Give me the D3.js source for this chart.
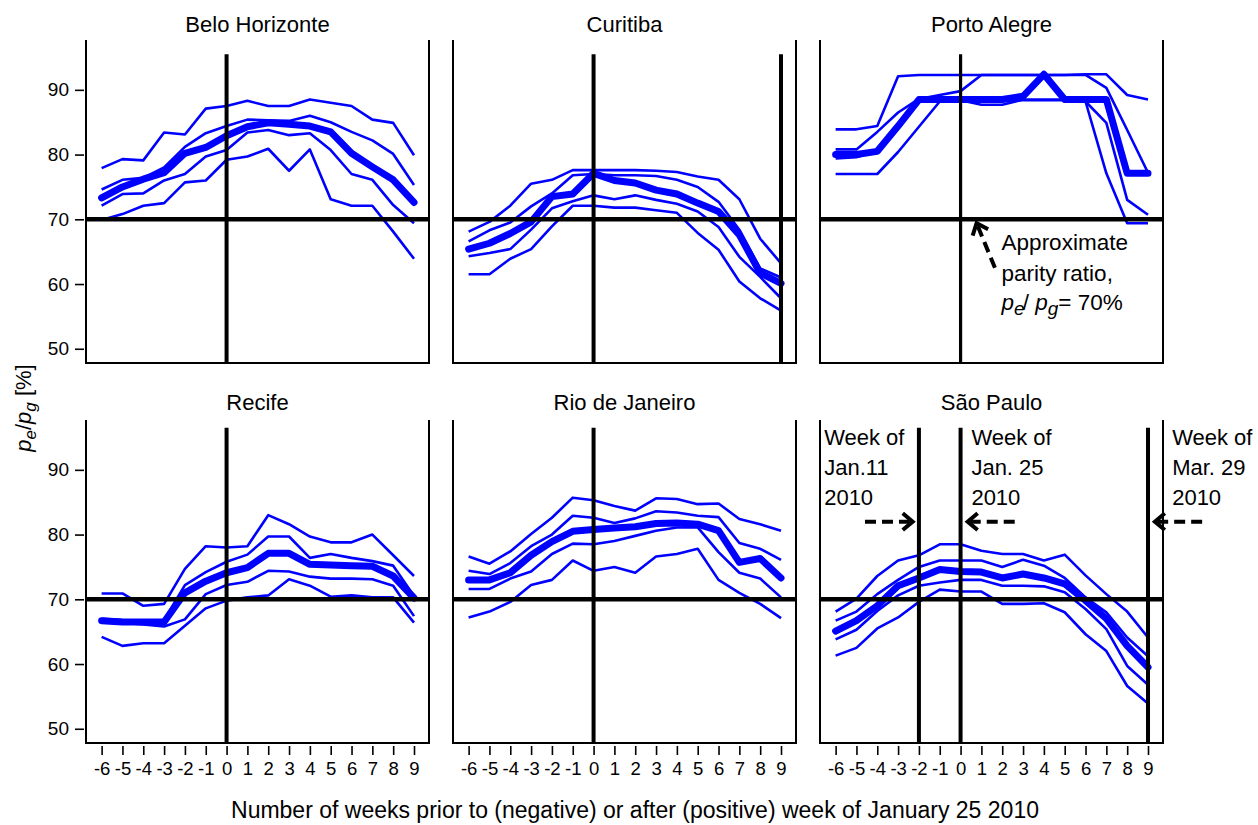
<!DOCTYPE html>
<html>
<head>
<meta charset="utf-8">
<script src="https://d3js.org/d3.v7.min.js"></script>
<style>
  body { margin: 0; background: #fff; }
  text { font-family: "Liberation Sans", Arial, sans-serif; fill: #000; }
</style>
</head>
<body>
<svg id="chart" width="1258" height="825"></svg>
<script>
// weeks relative to the week of January 25 2010
const weeks = [-6, -5, -4, -3, -2, -1, 0, 1, 2, 3, 4, 5, 6, 7, 8, 9];
const yTicks = [50, 60, 70, 80, 90];
const parity = 70;

const cities = ['Belo Horizonte', 'Curitiba', 'Porto Alegre', 'Recife', 'Rio de Janeiro', 'São Paulo'];

// each city: upper outer, upper inner, median (thick), lower inner, lower outer
const beloHorizonte = [
  [77.9, 79.3, 79.1, 83.4, 83.1, 87.1, 87.5, 88.3, 87.5, 87.5, 88.5, 88.0, 87.5, 85.4, 84.9, 79.9],
  [74.6, 76.1, 76.4, 78.0, 81.2, 83.3, 84.4, 85.4, 85.3, 85.2, 86.0, 85.0, 83.5, 82.2, 80.1, 75.3],
  [73.3, 75.0, 76.2, 77.2, 80.2, 81.1, 82.9, 84.3, 84.9, 84.7, 84.4, 83.5, 80.2, 78.1, 76.1, 72.6],
  [72.1, 73.9, 74.0, 76.0, 77.0, 79.7, 80.7, 83.4, 83.8, 83.0, 83.3, 80.7, 77.0, 76.1, 72.2, 69.4],
  [69.9, 70.8, 72.1, 72.5, 75.7, 76.0, 79.2, 79.7, 80.9, 77.5, 80.8, 73.1, 72.1, 72.1, 68.1, 63.9]
];
const curitiba = [
  [68.1, 69.6, 72.1, 75.5, 76.1, 77.6, 77.6, 77.6, 77.6, 77.5, 77.3, 76.6, 76.1, 73.1, 67.0, 63.2],
  [66.6, 68.3, 69.5, 72.0, 74.0, 76.8, 77.0, 76.8, 76.8, 76.7, 76.1, 75.0, 72.7, 68.4, 62.4, 61.0],
  [65.4, 66.3, 67.8, 69.6, 73.5, 73.9, 77.1, 76.0, 75.6, 74.5, 73.9, 72.5, 71.2, 67.6, 61.7, 60.1],
  [64.3, 64.8, 65.4, 68.4, 71.7, 72.8, 73.7, 73.1, 73.7, 73.0, 72.4, 71.2, 68.8, 64.2, 61.1, 57.8],
  [61.5, 61.5, 63.9, 65.4, 68.9, 72.1, 72.1, 71.8, 71.8, 71.4, 71.0, 67.9, 65.3, 60.4, 57.8, 55.9]
];
const portoAlegre = [
  [83.9, 83.9, 84.4, 92.1, 92.3, 92.3, 92.3, 92.3, 92.3, 92.3, 92.3, 92.3, 92.4, 92.4, 89.2, 88.5],
  [80.8, 80.8, 83.5, 86.5, 88.6, 89.2, 89.8, 92.3, 92.3, 92.3, 92.3, 92.3, 92.3, 90.3, 83.8, 77.2],
  [80.0, 80.0, 80.5, 84.4, 88.5, 88.5, 88.5, 88.5, 88.5, 89.0, 92.4, 88.5, 88.5, 88.5, 77.1, 77.1],
  [79.4, 79.6, 80.6, 84.0, 88.4, 88.4, 88.4, 87.7, 87.7, 88.5, 88.5, 88.5, 88.2, 84.9, 73.0, 70.7],
  [77.0, 77.0, 77.0, 80.4, 84.3, 88.2, 88.4, 88.4, 88.4, 88.4, 88.4, 88.4, 88.2, 77.1, 69.4, 69.4]
];
const recife = [
  [70.9, 70.9, 69.0, 69.3, 74.7, 78.2, 78.0, 78.2, 83.0, 81.6, 79.7, 78.8, 78.8, 80.0, 76.8, 73.6],
  [67.0, 66.8, 66.7, 66.8, 72.2, 74.2, 75.8, 76.9, 79.7, 79.7, 76.4, 77.0, 76.4, 75.9, 75.2, 70.5],
  [66.7, 66.5, 66.5, 66.5, 71.0, 72.8, 74.1, 74.9, 77.1, 77.1, 75.4, 75.3, 75.2, 75.1, 73.6, 70.2],
  [66.9, 66.4, 66.1, 65.8, 66.9, 70.8, 72.2, 72.7, 74.4, 74.3, 73.5, 73.2, 73.2, 73.1, 72.1, 67.4],
  [64.2, 62.8, 63.2, 63.2, 65.9, 68.6, 69.8, 70.3, 70.6, 73.1, 72.1, 70.4, 70.6, 70.3, 70.3, 66.4]
];
const rioDeJaneiro = [
  [76.6, 75.5, 77.4, 80.1, 82.6, 85.7, 85.3, 84.4, 83.7, 85.6, 85.5, 84.7, 84.8, 82.4, 81.6, 80.6],
  [74.4, 73.9, 75.6, 78.2, 80.0, 82.9, 82.6, 81.8, 82.5, 83.6, 83.4, 82.9, 82.7, 78.7, 77.8, 76.1],
  [73.0, 73.0, 74.1, 76.8, 78.9, 80.5, 80.8, 81.0, 81.2, 81.7, 81.8, 81.6, 80.6, 75.7, 76.3, 73.3],
  [71.6, 71.6, 73.2, 74.3, 77.0, 78.6, 78.5, 79.0, 79.8, 80.6, 81.1, 81.1, 77.3, 74.1, 73.2, 70.3],
  [67.2, 68.1, 69.6, 72.2, 73.0, 76.0, 74.4, 75.0, 74.1, 76.6, 77.0, 77.8, 73.0, 71.0, 69.3, 67.1]
];
const saoPaulo = [
  [68.1, 70.1, 73.6, 76.0, 76.8, 78.5, 78.5, 77.5, 77.0, 77.0, 76.0, 76.9, 73.7, 70.8, 68.1, 64.1],
  [66.7, 68.1, 70.8, 73.0, 75.0, 76.0, 76.0, 76.0, 75.0, 76.1, 75.2, 73.3, 70.3, 68.0, 64.1, 61.2],
  [65.1, 66.7, 69.0, 72.1, 73.3, 74.6, 74.3, 74.2, 73.3, 73.9, 73.3, 72.4, 69.8, 67.0, 62.8, 59.5],
  [63.8, 65.3, 68.2, 70.6, 72.1, 72.6, 73.0, 73.0, 72.1, 72.1, 72.0, 71.1, 68.5, 65.4, 59.7, 56.8],
  [61.3, 62.5, 65.5, 67.2, 69.6, 71.5, 71.2, 71.2, 69.3, 69.3, 69.4, 68.0, 64.6, 62.0, 56.6, 53.9]
];
const citySeries = [beloHorizonte, curitiba, portoAlegre, recife, rioDeJaneiro, saoPaulo];

// vertical reference weeks in each panel
const refWeeks = [[0], [0, 9], [0], [0], [0], [-2, 0, 9]];
const refTop = [95.5, 96.5];  // top of the vertical lines, per row

const svg = d3.select('#chart');

const pw = 343, ph = 323;
const colX = [86, 453, 820];
const rowY = [40, 420];

const x = d3.scaleLinear().domain([-6.75, 9.72]).range([0, pw]);
const y = d3.scaleLinear().domain([47.8, 97.7]).range([ph, 0]);

const line = d3.line()
  .x((d, i) => x(weeks[i]))
  .y(d => y(d));

const panels = [];

cities.forEach((name, k) => {
  const col = k % 3, row = Math.floor(k / 3);
  const g = svg.append('g').attr('transform', `translate(${colX[col]},${rowY[row]})`);
  panels.push(g);

  // title
  g.append('text')
    .attr('x', pw / 2).attr('y', row === 0 ? -8 : -10)
    .attr('text-anchor', 'middle')
    .attr('font-size', 22)
    .text(name);

  // frame: left, bottom, right
  g.append('path')
    .attr('d', `M0,0 V${ph} H${pw} V0`)
    .attr('fill', 'none').attr('stroke', '#000').attr('stroke-width', 2);

  // blue lines: thin first, thick median on top
  const series = citySeries[k];
  series.forEach((s, i) => {
    if (i === 2) return;
    g.append('path').datum(s)
      .attr('d', line)
      .attr('fill', 'none').attr('stroke', '#0000ff')
      .attr('stroke-width', 2.6).attr('stroke-linejoin', 'round');
  });
  g.append('path').datum(series[2])
    .attr('d', line)
    .attr('fill', 'none').attr('stroke', '#0000ff')
    .attr('stroke-width', 7).attr('stroke-linejoin', 'round').attr('stroke-linecap', 'round');

  // parity line
  g.append('line')
    .attr('x1', 0).attr('x2', pw)
    .attr('y1', y(parity)).attr('y2', y(parity))
    .attr('stroke', '#000').attr('stroke-width', 4.5);

  // vertical week lines
  refWeeks[k].forEach(w => {
    g.append('line')
      .attr('x1', x(w)).attr('x2', x(w))
      .attr('y1', y(refTop[row])).attr('y2', ph)
      .attr('stroke', '#000').attr('stroke-width', k === 2 ? 3.2 : 4);
  });

  // y axis on the left column
  if (col === 0) {
    const ax = g.append('g').attr('transform', 'translate(-2,0)')
      .call(d3.axisLeft(y).tickValues(yTicks).tickSize(9).tickPadding(6));
    ax.select('.domain').remove();
    ax.selectAll('line').attr('stroke-width', 1.6);
    ax.selectAll('text').attr('font-size', 19).attr('font-family', '"Liberation Sans", Arial, sans-serif');
  }
  // x axis on the bottom row
  if (row === 1) {
    const ax = g.append('g').attr('transform', `translate(0,${ph + 3})`)
      .call(d3.axisBottom(x).tickValues(weeks).tickFormat(d => String(d)).tickSize(9).tickPadding(7));
    ax.select('.domain').remove();
    ax.selectAll('line').attr('stroke-width', 1.6);
    ax.selectAll('text').attr('font-size', 18.5).attr('font-family', '"Liberation Sans", Arial, sans-serif');
  }
});

// dashed arrow with an open chevron head
function arrow(g, x0, y0, x1, y1) {
  const dx = x1 - x0, dy = y1 - y0, len = Math.hypot(dx, dy);
  const ux = dx / len, uy = dy / len;
  const L = 13, a = 40 * Math.PI / 180;
  const p1 = [x1 - L * (ux * Math.cos(a) - uy * Math.sin(a)), y1 - L * (uy * Math.cos(a) + ux * Math.sin(a))];
  const p2 = [x1 - L * (ux * Math.cos(a) + uy * Math.sin(a)), y1 - L * (uy * Math.cos(a) - ux * Math.sin(a))];
  g.append('line')
    .attr('x1', x0).attr('y1', y0).attr('x2', x1 - ux * 3).attr('y2', y1 - uy * 3)
    .attr('stroke', '#000').attr('stroke-width', 4).attr('stroke-dasharray', '11,6');
  g.append('path')
    .attr('d', `M${p1[0]},${p1[1]} L${x1},${y1} L${p2[0]},${p2[1]}`)
    .attr('fill', 'none').attr('stroke', '#000').attr('stroke-width', 4)
    .attr('stroke-linejoin', 'miter');
}

// Porto Alegre annotation
const pa = panels[2];
arrow(pa, x(1.65), y(62.5), x(0.77), y(69.4));
const paText = pa.append('text').attr('font-size', 22.5);
paText.append('tspan').attr('x', x(1.97)).attr('y', y(65.3)).text('Approximate');
paText.append('tspan').attr('x', x(1.97)).attr('y', y(60.4)).text('parity ratio,');
const ratio = pa.append('text').attr('font-size', 22.5).attr('x', x(1.97)).attr('y', y(56.0));
ratio.append('tspan').attr('font-style', 'italic').text('p');
ratio.append('tspan').attr('font-style', 'italic').attr('font-size', 19).attr('dy', 5).text('e');
ratio.append('tspan').attr('dy', -5).attr('dx', -2).text('/ ');
ratio.append('tspan').attr('font-style', 'italic').text('p');
ratio.append('tspan').attr('font-style', 'italic').attr('font-size', 19).attr('dy', 5).text('g');
ratio.append('tspan').attr('dy', -5).text('= 70%');

// São Paulo annotations
const sp = panels[5];
const weekNotes = [
  { wx: -6.55, lines: ['Week of', 'Jan.11', '2010'] },
  { wx: 0.52, lines: ['Week of', 'Jan. 25', '2010'] },
  { wx: 10.16, lines: ['Week of', 'Mar. 29', '2010'] }
];
const noteY = [93.8, 89.2, 84.5];
weekNotes.forEach(n => {
  const t = sp.append('text').attr('font-size', 22);
  n.lines.forEach((s, i) => t.append('tspan').attr('x', x(n.wx)).attr('y', y(noteY[i])).text(s));
});
arrow(sp, x(-4.59), y(82.0), x(-2.3), y(82.0));
arrow(sp, x(2.6), y(82.0), x(0.34), y(82.0));
arrow(sp, x(11.6), y(82.0), x(9.33), y(82.0));

// axis titles
const yl = svg.append('text')
  .attr('transform', 'translate(31,408) rotate(-90)')
  .attr('text-anchor', 'middle').attr('font-size', 22);
yl.append('tspan').attr('font-style', 'italic').text('p');
yl.append('tspan').attr('font-style', 'italic').attr('font-size', 17).attr('dy', 5).text('e');
yl.append('tspan').attr('dy', -5).text('/');
yl.append('tspan').attr('font-style', 'italic').text('p');
yl.append('tspan').attr('font-style', 'italic').attr('font-size', 17).attr('dy', 5).text('g');
yl.append('tspan').attr('dy', -5).text(' [%]');

svg.append('text')
  .attr('x', 635).attr('y', 818)
  .attr('text-anchor', 'middle').attr('font-size', 23)
  .text('Number of weeks prior to (negative) or after (positive) week of January 25 2010');
</script>
</body>
</html>
